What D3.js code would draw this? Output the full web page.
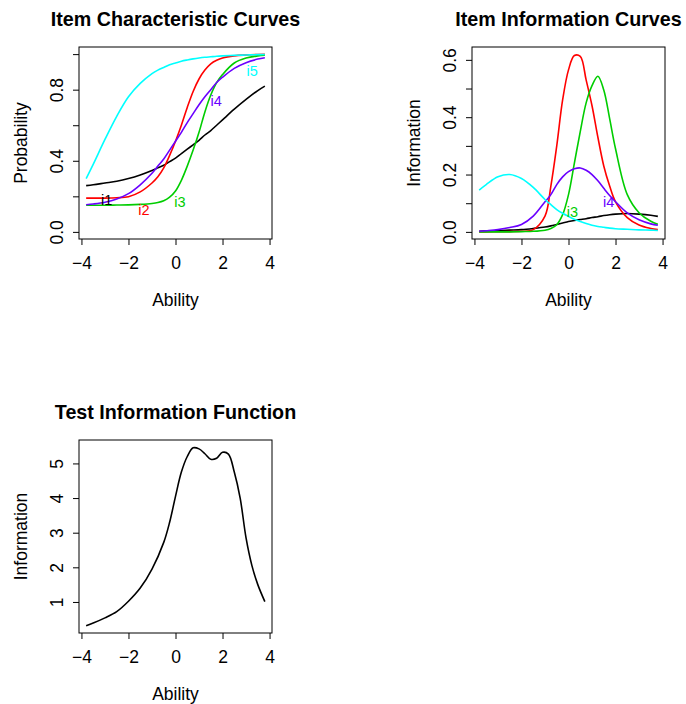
<!DOCTYPE html>
<html>
<head>
<meta charset="utf-8">
<script src="https://cdn.jsdelivr.net/npm/d3@7"></script>
<style>
  body { margin: 0; background: #fff; }
  svg text { font-family: "Liberation Sans", Arial, Helvetica, sans-serif; fill: #000; }
</style>
</head>
<body>
<svg id="viz"></svg>
<script>
var width = 686;
var height = 704;

// ability grid used for the item curves
var theta = [-3.8, -3.5, -3, -2.5, -2, -1.5, -1, -0.75, -0.5, -0.25, 0, 0.25, 0.5,
             0.75, 1, 1.25, 1.5, 1.75, 2, 2.5, 3, 3.5, 3.8];

var itemNames = ["i1", "i2", "i3", "i4", "i5"];
var itemColors = ["#000000", "#ff0000", "#00cd00", "#6a00ff", "#00ffff"];

// item characteristic curves (probability)
var icc_i1 = [0.26, 0.265, 0.275, 0.285, 0.30, 0.32, 0.345, 0.36, 0.375, 0.395, 0.415, 0.44, 0.465,
              0.49, 0.515, 0.545, 0.57, 0.60, 0.63, 0.69, 0.745, 0.795, 0.82];
var icc_i2 = [0.19, 0.19, 0.19, 0.192, 0.198, 0.225, 0.275, 0.31, 0.36, 0.43, 0.51, 0.60, 0.70,
              0.79, 0.86, 0.91, 0.945, 0.965, 0.978, 0.99, 0.995, 0.998, 0.999];
var icc_i3 = [0.15, 0.15, 0.15, 0.151, 0.152, 0.155, 0.16, 0.165, 0.175, 0.195, 0.23, 0.29, 0.37,
              0.46, 0.56, 0.675, 0.77, 0.84, 0.885, 0.95, 0.978, 0.99, 0.994];
var icc_i4 = [0.153, 0.157, 0.167, 0.185, 0.215, 0.265, 0.33, 0.37, 0.41, 0.46, 0.51, 0.56, 0.615,
              0.665, 0.715, 0.76, 0.80, 0.84, 0.87, 0.92, 0.952, 0.972, 0.98];
var icc_i5 = [0.30, 0.38, 0.52, 0.65, 0.76, 0.835, 0.89, 0.91, 0.925, 0.94, 0.95, 0.96, 0.967,
              0.973, 0.978, 0.982, 0.985, 0.988, 0.99, 0.993, 0.995, 0.997, 0.998];

// item information curves
var info_i1 = [0.002, 0.003, 0.004, 0.006, 0.008, 0.012, 0.017, 0.021, 0.026, 0.031, 0.036, 0.04, 0.043,
               0.046, 0.05, 0.053, 0.057, 0.06, 0.062, 0.064, 0.062, 0.058, 0.054];
var info_i2 = [0, 0, 0.0005, 0.001, 0.002, 0.008, 0.055, 0.16, 0.30, 0.46, 0.565, 0.615, 0.612,
               0.53, 0.44, 0.33, 0.23, 0.16, 0.105, 0.05, 0.024, 0.012, 0.008];
var info_i3 = [0, 0, 0, 0, 0.001, 0.002, 0.006, 0.012, 0.025, 0.06, 0.13, 0.24, 0.35,
               0.45, 0.51, 0.543, 0.495, 0.395, 0.29, 0.13, 0.067, 0.037, 0.027];
var info_i4 = [0.002, 0.004, 0.008, 0.015, 0.026, 0.055, 0.105, 0.13, 0.165, 0.192, 0.21, 0.22, 0.223,
               0.215, 0.20, 0.178, 0.152, 0.127, 0.105, 0.066, 0.042, 0.028, 0.023];
var info_i5 = [0.146, 0.165, 0.192, 0.20, 0.186, 0.155, 0.113, 0.095, 0.078, 0.065, 0.054, 0.044, 0.036,
               0.029, 0.023, 0.019, 0.016, 0.013, 0.011, 0.009, 0.007, 0.006, 0.005];

// test information function
var testTheta = [-3.8, -3.5, -3, -2.5, -2, -1.5, -1, -0.5, -0.25, 0, 0.25, 0.5, 0.75, 1, 1.25,
                 1.5, 1.75, 2, 2.25, 2.5, 2.75, 3, 3.25, 3.5, 3.8];
var testInfo = [0.31, 0.39, 0.54, 0.72, 1.02, 1.40, 1.95, 2.72, 3.3, 4.05, 4.75, 5.2, 5.45, 5.42, 5.28,
                5.12, 5.15, 5.32, 5.27, 4.75, 4.0, 2.85, 2.05, 1.5, 1.01];

// text labels in panel 1 and 2 (data coordinates)
var iccLabelX = [-2.93, -1.34, 0.19, 1.73, 3.26];
var iccLabelY = [0.18, 0.125, 0.171, 0.736, 0.904];
var infoLabelItem = [2, 3];
var infoLabelX = [0.17, 1.71];
var infoLabelY = [0.069, 0.103];

var iccSeries = [icc_i1, icc_i2, icc_i3, icc_i4, icc_i5];
var infoSeries = [info_i1, info_i2, info_i3, info_i4, info_i5];

var svg = d3.select("#viz").attr("width", width).attr("height", height);

function rExtent(lo, hi) {
    var pad = (hi - lo) * 0.04;
    return [lo - pad, hi + pad];
}

function panel(o) {
    var g = svg.append("g");
    var x = d3.scaleLinear().domain(rExtent(-3.8, 3.8)).range([o.left, o.right]);
    var y = d3.scaleLinear().domain(o.ydom).range([o.bottom, o.top]);

    g.append("g")
        .attr("transform", "translate(0," + o.bottom + ")")
        .call(d3.axisBottom(x).tickValues([-4, -2, 0, 2, 4]).tickSize(6).tickFormat(d3.format("d")))
        .call(function(a) {
            a.select(".domain").remove();
            a.selectAll("line").attr("stroke", "#000");
            a.selectAll("text").attr("y", 24).attr("dy", "0.35em")
                .style("font-size", "17.5px").attr("fill", "#000");
        })
        .attr("font-family", null).attr("font-size", null);

    g.append("g")
        .attr("transform", "translate(" + o.left + ",0)")
        .call(d3.axisLeft(y).tickValues(o.yticks).tickSize(6).tickFormat(o.yfmt))
        .call(function(a) {
            a.select(".domain").remove();
            a.selectAll("line").attr("stroke", "#000");
            a.selectAll("text")
                .attr("transform", "rotate(-90)")
                .attr("x", 0).attr("y", -22).attr("dy", "0.35em")
                .attr("text-anchor", "middle")
                .style("font-size", "17.5px").attr("fill", "#000");
        })
        .attr("font-family", null).attr("font-size", null);

    g.append("rect")
        .attr("x", o.left).attr("y", o.top)
        .attr("width", o.right - o.left).attr("height", o.bottom - o.top)
        .attr("fill", "none").attr("stroke", "#000").attr("stroke-width", 1);

    g.append("text")
        .attr("x", (o.left + o.right) / 2).attr("y", o.top - 21)
        .attr("text-anchor", "middle")
        .style("font-size", "19.7px").style("font-weight", "bold")
        .text(o.title);

    g.append("text")
        .attr("x", (o.left + o.right) / 2).attr("y", o.bottom + 61)
        .attr("dy", "0.35em").attr("text-anchor", "middle")
        .style("font-size", "17.5px")
        .text("Ability");

    g.append("text")
        .attr("transform", "translate(" + (o.left - 58.5) + "," + ((o.top + o.bottom) / 2) + ") rotate(-90)")
        .attr("dy", "0.35em").attr("text-anchor", "middle")
        .style("font-size", "17.5px")
        .text(o.ylab);

    var line = d3.line()
        .x(function(d) { return x(d[0]); })
        .y(function(d) { return y(d[1]); })
        .curve(d3.curveCatmullRom.alpha(0.5));

    o.series.forEach(function(s) {
        g.append("path")
            .attr("d", line(d3.zip(s.x, s.y)))
            .attr("fill", "none")
            .attr("stroke", s.color)
            .attr("stroke-width", 1.6);
    });

    (o.labels || []).forEach(function(l) {
        g.append("text")
            .attr("x", x(l.x)).attr("y", y(l.y))
            .attr("dy", "0.35em").attr("text-anchor", "middle")
            .style("font-size", "14.5px")
            .style("fill", l.color)
            .text(l.text);
    });
}

panel({
    left: 79, right: 272, top: 47, bottom: 239,
    ydom: rExtent(0, 1),
    yticks: [0, 0.2, 0.4, 0.6, 0.8, 1.0],
    yfmt: function(d) { return [0, 0.4, 0.8].some(function(v) { return Math.abs(v - d) < 1e-9; }) ? d3.format(".1f")(d) : ""; },
    title: "Item Characteristic Curves",
    ylab: "Probability",
    series: iccSeries.map(function(s, i) { return { x: theta, y: s, color: itemColors[i] }; }),
    labels: itemNames.map(function(n, i) { return { x: iccLabelX[i], y: iccLabelY[i], text: n, color: itemColors[i] }; })
});

panel({
    left: 472, right: 665, top: 47, bottom: 239,
    ydom: rExtent(0, 0.62),
    yticks: [0, 0.1, 0.2, 0.3, 0.4, 0.5, 0.6],
    yfmt: function(d) { return [0, 0.2, 0.4, 0.6].some(function(v) { return Math.abs(v - d) < 1e-9; }) ? d3.format(".1f")(d) : ""; },
    title: "Item Information Curves",
    ylab: "Information",
    series: infoSeries.map(function(s, i) { return { x: theta, y: s, color: itemColors[i] }; }),
    labels: infoLabelItem.map(function(k, j) { return { x: infoLabelX[j], y: infoLabelY[j], text: itemNames[k], color: itemColors[k] }; })
});

panel({
    left: 79, right: 272, top: 440, bottom: 633,
    ydom: rExtent(d3.min(testInfo), 5.47),
    yticks: [1, 2, 3, 4, 5],
    yfmt: d3.format("d"),
    title: "Test Information Function",
    ylab: "Information",
    series: [{ x: testTheta, y: testInfo, color: "#000" }]
});
</script>
</body>
</html>
